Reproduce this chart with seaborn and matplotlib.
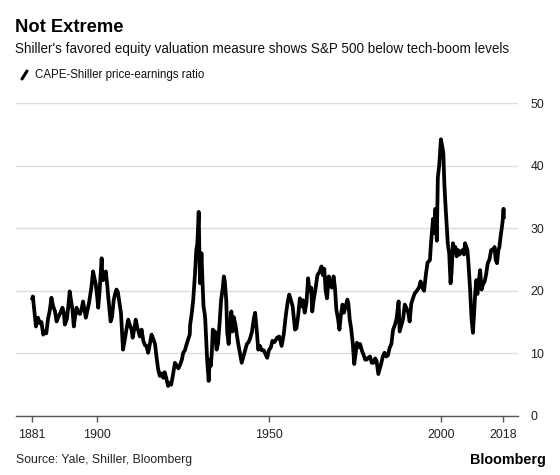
import matplotlib
matplotlib.use("Agg")
import matplotlib.pyplot as plt
from matplotlib.lines import Line2D
import seaborn as sns
import pandas as pd

title = "Not Extreme"
subtitle = "Shiller's favored equity valuation measure shows S&P 500 below tech-boom levels"
legend_label = "CAPE-Shiller price-earnings ratio"
source = "Source: Yale, Shiller, Bloomberg"
brand = "Bloomberg"

x_ticks = [1881, 1900, 1950, 2000, 2018]
y_ticks = [0, 10, 20, 30, 40, 50]

years = [
    1881.0, 1881.3, 1881.7, 1882.2, 1882.5, 1882.8, 1883.3, 1883.8, 1884.3, 1884.7,
    1885.2, 1885.7, 1886.2, 1886.7, 1887.2, 1887.7, 1888.2, 1888.7, 1889.3, 1889.9,
    1890.3, 1890.6, 1891.2, 1891.6, 1892.0, 1892.4, 1892.8, 1893.2, 1893.6, 1894.0,
    1894.5, 1895.0, 1895.5, 1895.9, 1896.3, 1896.7, 1897.2, 1897.6, 1897.9, 1898.3,
    1898.8, 1899.2, 1899.6, 1900.0, 1900.3, 1900.7, 1901.0, 1901.3, 1901.5, 1901.7,
    1902.1, 1902.5, 1902.9, 1903.3, 1903.9, 1904.3, 1904.8, 1905.2, 1905.6, 1906.0,
    1906.5, 1906.9, 1907.2, 1907.5, 1907.9, 1908.4, 1909.0, 1909.5, 1910.0, 1910.3,
    1910.8, 1911.2, 1911.7, 1912.0, 1912.4, 1912.9, 1913.4, 1913.9, 1914.3, 1914.8,
    1915.3, 1915.8, 1916.3, 1916.8, 1917.2, 1917.7, 1918.2, 1918.7, 1919.2, 1919.6,
    1920.0, 1920.6, 1921.0, 1921.5, 1922.0, 1922.6, 1923.1, 1923.6, 1924.1, 1924.6,
    1925.0, 1925.5, 1926.0, 1926.4, 1926.9, 1927.0, 1927.5, 1927.9, 1928.4, 1928.8,
    1929.1, 1929.5, 1929.7, 1929.9, 1930.1, 1930.3, 1930.6, 1930.9, 1931.2, 1931.4,
    1931.7, 1932.0, 1932.4, 1932.7, 1933.0, 1933.3, 1933.6, 1933.9, 1934.2, 1934.7,
    1935.1, 1935.6, 1936.0, 1936.5, 1936.8, 1937.1, 1937.5, 1937.8, 1938.2, 1938.6,
    1939.0, 1939.3, 1939.7, 1940.2, 1940.6, 1941.0, 1941.5, 1942.0, 1942.5, 1943.0,
    1943.5, 1944.0, 1944.5, 1945.0, 1945.5, 1945.9, 1946.4, 1946.8, 1947.3, 1947.8,
    1948.4, 1949.0, 1949.4, 1949.9, 1950.5, 1950.9, 1951.5, 1952.3, 1952.9, 1953.6,
    1954.2, 1954.8, 1955.3, 1955.8, 1956.3, 1956.8, 1957.5, 1957.9, 1958.4, 1958.9,
    1959.4, 1959.8, 1960.3, 1960.8, 1961.3, 1961.7, 1962.2, 1962.5, 1962.9, 1963.5,
    1964.0, 1964.6, 1965.2, 1965.6, 1966.0, 1966.4, 1966.8, 1967.3, 1967.7, 1968.2,
    1968.7, 1969.1, 1969.5, 1970.0, 1970.4, 1970.8, 1971.3, 1971.7, 1972.2, 1972.7,
    1973.0, 1973.4, 1973.8, 1974.3, 1974.7, 1975.0, 1975.5, 1975.9, 1976.4, 1976.9,
    1977.4, 1977.9, 1978.3, 1978.8, 1979.3, 1979.8, 1980.3, 1980.8, 1981.2, 1981.7,
    1982.1, 1982.6, 1983.0, 1983.5, 1984.0, 1984.5, 1985.0, 1985.5, 1986.0, 1986.5,
    1987.0, 1987.6, 1987.9, 1988.4, 1988.9, 1989.4, 1989.9, 1990.4, 1990.8, 1991.3,
    1991.9, 1992.3, 1992.9, 1993.5, 1994.0, 1994.5, 1995.0, 1995.5, 1996.0, 1996.7,
    1997.0, 1997.6, 1997.9, 1998.3, 1998.7, 1999.0, 1999.4, 1999.9, 2000.3, 2000.6,
    2000.9, 2001.2, 2001.6, 2001.9, 2002.3, 2002.7, 2003.0, 2003.4, 2003.8, 2004.1,
    2004.5, 2004.9, 2005.3, 2005.7, 2006.2, 2006.6, 2006.9, 2007.3, 2007.6, 2007.9,
    2008.4, 2008.8, 2009.2, 2009.5, 2009.9, 2010.2, 2010.5, 2010.9, 2011.3, 2011.7,
    2012.1, 2012.6, 2013.0, 2013.5, 2014.0, 2014.5, 2015.0, 2015.5, 2015.8, 2016.2,
    2016.6, 2016.9, 2017.2, 2017.7, 2017.9, 2018.1, 2018.2,
]

cape = [
    18.5, 19.1, 17.0, 14.3, 15.5, 15.7, 14.8, 15.0, 13.0, 13.5,
    13.2, 15.5, 16.8, 18.9, 17.5, 16.8, 15.1, 15.8, 16.5, 17.3,
    16.5, 14.6, 15.5, 17.5, 19.9, 18.5, 17.0, 14.3, 16.0, 17.3,
    16.5, 16.3, 17.2, 18.3, 17.0, 15.7, 17.0, 18.0, 19.1, 20.5,
    23.1, 22.0, 21.0, 19.0, 17.3, 20.0, 22.5, 25.2, 22.0, 21.7,
    22.5, 23.1, 21.0, 18.5, 15.1, 15.8, 18.5, 19.5, 20.2, 19.8,
    18.0, 16.5, 13.5, 10.6, 11.8, 13.5, 15.4, 14.5, 13.8, 12.5,
    14.0, 15.4, 14.0, 13.5, 12.7, 13.8, 12.0, 11.3, 11.2, 10.1,
    11.5, 13.0, 12.3, 11.5, 9.6, 7.5, 6.4, 6.8, 6.1, 7.0,
    6.2, 4.8, 5.3, 5.0, 6.5, 8.5, 8.0, 7.6, 8.2, 9.0,
    10.1, 10.5, 11.5, 12.2, 13.0, 14.5, 16.5, 18.5, 22.5, 26.5,
    27.5, 32.6, 26.0, 21.2, 23.0, 26.0, 21.5, 17.5, 16.5, 15.4,
    12.0, 8.5, 5.6, 9.0, 8.0, 10.0, 13.8, 12.0, 13.5, 10.6,
    11.5, 15.0, 18.5, 20.5, 22.3, 21.5, 18.5, 13.3, 11.5, 14.5,
    16.7, 13.5, 15.8, 14.5, 12.9, 11.5, 10.0, 8.5, 9.5, 10.5,
    11.5, 11.8, 12.5, 13.5, 15.5, 16.5, 13.5, 10.6, 11.2, 10.5,
    10.5, 9.8, 9.3, 10.5, 11.0, 12.0, 11.8, 12.5, 12.7, 11.2,
    13.0, 16.0, 18.0, 19.4, 18.5, 17.5, 13.8, 14.0, 16.0, 18.8,
    17.5, 18.5, 16.5, 18.0, 22.0, 20.0, 20.5, 16.7, 18.5, 20.5,
    22.5, 23.0, 23.9, 22.5, 23.5, 20.0, 18.8, 22.3, 21.0, 20.5,
    22.3, 20.5, 17.0, 15.5, 13.8, 16.0, 17.8, 16.5, 17.5, 18.6,
    18.0, 15.4, 14.0, 11.5, 8.3, 9.5, 11.7, 11.0, 11.5, 10.5,
    9.8, 9.0, 9.0, 9.3, 9.5, 8.5, 8.5, 9.2, 8.8, 6.7,
    7.5, 8.5, 9.5, 10.1, 9.5, 9.7, 10.9, 11.5, 13.8, 14.5,
    15.5, 18.3, 13.5, 14.5, 15.5, 17.8, 17.2, 16.5, 15.1, 18.0,
    19.0, 19.6, 20.0, 20.5, 21.5, 20.5, 20.0, 22.5, 24.5, 24.9,
    27.5, 31.5, 29.2, 33.1, 28.0, 38.1, 40.0, 44.2, 43.0, 42.0,
    37.0, 33.9, 30.2, 27.5, 26.0, 21.2, 23.0, 27.6, 26.0, 27.0,
    25.5, 26.5, 25.8, 26.2, 26.5, 25.8, 27.6, 27.0, 26.5, 24.4,
    20.0, 15.5, 13.3, 16.0, 20.0, 21.7, 19.5, 21.5, 23.3, 20.2,
    21.0, 21.5, 22.5, 24.4, 25.0, 26.5, 26.5, 27.0, 25.0, 24.4,
    26.5, 27.0, 28.5, 30.5, 31.5, 33.1, 31.5,
]

df = pd.DataFrame({"year": years, "cape": cape})

sns.set_theme(style="white")
plt.rcParams["font.family"] = ["Liberation Sans", "DejaVu Sans"]

W, H = 560, 475
fig = plt.figure(figsize=(W / 100, H / 100), dpi=100)
ax = fig.add_axes([16 / W, (H - 416) / H, 502 / W, 313 / H])

sns.lineplot(data=df, x="year", y="cape", ax=ax, color="black",
             linewidth=2.7, solid_joinstyle="round", solid_capstyle="butt")

ax.set_xlim(1876.4, 2022.3)
ax.set_ylim(0, 50)
ax.set_xticks(x_ticks)
ax.set_xticklabels([str(t) for t in x_ticks])
ax.set_yticks(y_ticks)
ax.yaxis.tick_right()
ax.yaxis.set_label_position("right")
ax.set_xlabel("")
ax.set_ylabel("")
ax.grid(axis="y", color="#dcdcdc", linewidth=1.0)
ax.grid(axis="x", visible=False)
ax.set_axisbelow(True)
for s in ["top", "right", "left"]:
    ax.spines[s].set_visible(False)
ax.spines["bottom"].set_color("#555555")
ax.spines["bottom"].set_linewidth(1.0)
ax.tick_params(axis="x", direction="out", length=4, width=1.0, color="#555555",
               labelsize=8.9, labelcolor="#222222", pad=5, bottom=True)
ax.tick_params(axis="y", length=0, labelsize=8.9, labelcolor="#222222", pad=9)
for lab in ax.get_yticklabels():
    lab.set_horizontalalignment("left")

fig.text(15 / W, 1 - 27 / H, title, fontsize=13.2, fontweight="bold",
         color="black", va="center", ha="left")
fig.text(15 / W, 1 - 49 / H, subtitle, fontsize=9.75, color="#111111",
         va="center", ha="left")
fig.add_artist(Line2D([22 / W, 27 / W], [1 - 79 / H, 1 - 71 / H],
                      color="black", linewidth=2.2, transform=fig.transFigure))
fig.text(35 / W, 1 - 75 / H, legend_label, fontsize=8.3, color="#111111",
         va="center", ha="left")
fig.text(16 / W, 1 - 460 / H, source, fontsize=8.85, color="#222222",
         va="center", ha="left")
fig.text(546 / W, 1 - 460 / H, brand, fontsize=10.4, fontweight="bold",
         color="black", va="center", ha="right")

fig.savefig("out.png", dpi=100)
